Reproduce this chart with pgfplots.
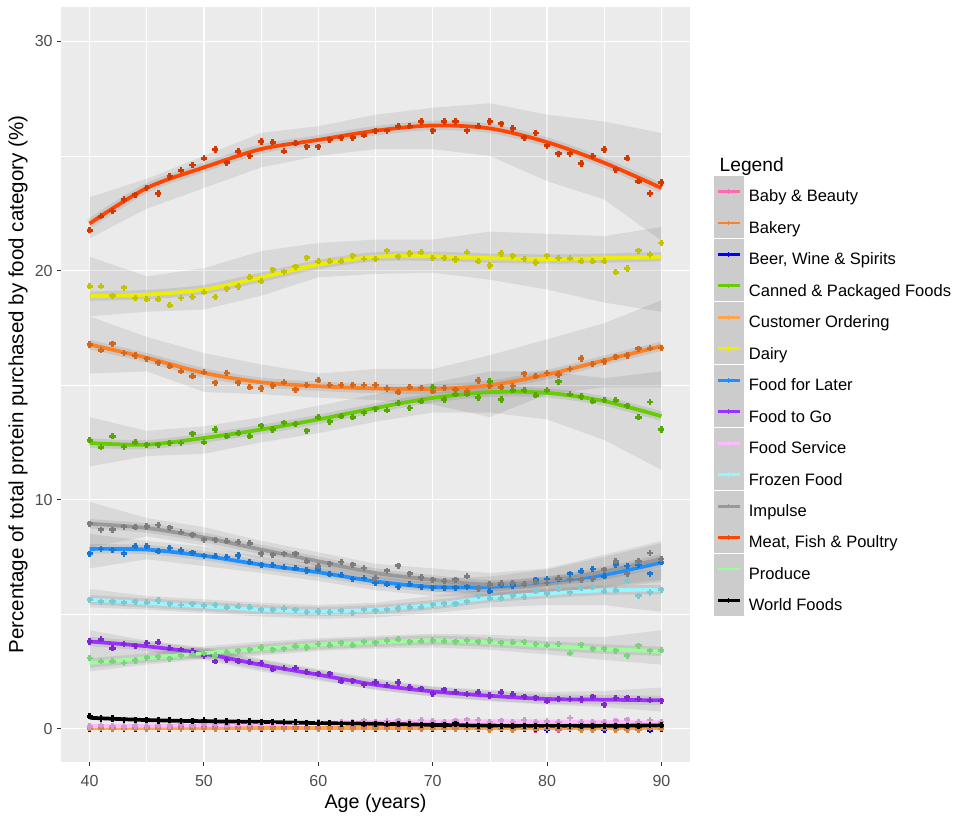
\documentclass[border=0pt]{standalone}
\usepackage{pgfplots}
\pgfplotsset{compat=1.18}
\usepackage{pgfplotstable}
\usepgfplotslibrary{fillbetween}
\usepackage{fontspec}
\setmainfont{Liberation Sans}

\definecolor{panelbg}{HTML}{EBEBEB}
\definecolor{keyfill}{HTML}{CCCCCC}
\definecolor{tickc}{HTML}{333333}
\definecolor{labc}{HTML}{4D4D4D}
\definecolor{cY}{HTML}{FF69B4}
\definecolor{cB}{HTML}{FF7F24}
\definecolor{cE}{HTML}{0000FF}
\definecolor{cC}{HTML}{66CD00}
\definecolor{cO}{HTML}{FFA54F}
\definecolor{cD}{HTML}{EEEE00}
\definecolor{cL}{HTML}{1E90FF}
\definecolor{cG}{HTML}{9B30FF}
\definecolor{cS}{HTML}{FFBBFF}
\definecolor{cF}{HTML}{98F5FF}
\definecolor{cI}{HTML}{999999}
\definecolor{cM}{HTML}{FF4500}
\definecolor{cP}{HTML}{9AFF9A}
\definecolor{cW}{HTML}{000000}

% points: M=Meat D=Dairy B=Bakery C=Canned I=Impulse L=Food for Later F=Frozen G=Food to Go
% P=Produce W=World Foods S=Food Service Y=Baby & Beauty E=Beer/Wine O=Customer Ordering
\pgfplotstableread{
a M D B C I L F G P W S Y E O
40 21.75 19.31 16.77 12.59 8.95 7.64 5.63 3.81 3.09 0.55 0.10 0.05 0.01 0.02
41 22.36 19.31 16.52 12.28 8.69 7.85 5.55 3.91 2.95 0.45 0.15 0.06 0.00 0.02
42 22.60 18.90 16.81 12.77 8.69 7.80 5.55 3.52 2.95 0.45 0.12 0.04 0.01 0.01
43 23.10 19.25 16.40 12.30 8.82 7.64 5.50 3.70 2.87 0.40 0.10 0.07 0.00 0.02
44 23.30 18.80 16.29 12.50 8.80 7.96 5.55 3.62 2.98 0.38 0.14 0.05 0.01 0.02
45 23.60 18.75 16.15 12.40 8.83 7.96 5.52 3.74 3.10 0.40 0.12 0.06 0.00 0.01
46 23.36 18.75 15.97 12.40 8.89 7.74 5.60 3.77 3.15 0.36 0.15 0.04 0.01 0.02
47 24.10 18.49 15.82 12.47 8.78 7.89 5.45 3.52 3.05 0.38 0.13 0.06 0.00 0.02
48 24.37 18.80 15.60 12.47 8.57 7.78 5.40 3.45 3.20 0.35 0.18 0.05 0.01 0.01
49 24.60 18.84 15.38 12.87 8.47 7.69 5.45 3.38 3.25 0.35 0.15 0.07 0.00 0.02
50 24.90 19.05 15.56 12.50 8.25 7.55 5.38 3.19 3.30 0.38 0.17 0.05 0.01 0.02
51 25.28 18.84 15.10 13.06 8.25 7.53 5.40 2.94 3.20 0.33 0.20 0.06 0.00 0.01
52 24.70 19.20 15.53 12.77 8.18 7.50 5.30 3.00 3.35 0.32 0.15 0.04 0.01 0.02
53 25.20 19.30 15.10 12.90 8.15 7.56 5.35 2.94 3.40 0.30 0.22 0.06 0.00 0.02
54 25.00 19.70 14.90 12.77 8.10 7.26 5.30 2.90 3.45 0.32 0.20 0.05 0.01 0.01
55 25.63 19.53 14.85 13.23 7.64 7.16 5.20 2.87 3.55 0.30 0.22 0.07 0.00 0.02
56 25.60 20.04 14.98 13.06 7.60 7.15 5.20 2.60 3.45 0.30 0.25 0.05 0.01 0.02
57 25.20 19.95 15.12 13.35 7.64 7.05 5.25 2.65 3.50 0.28 0.22 0.06 0.00 0.01
58 25.55 20.17 14.80 13.30 7.64 7.00 5.20 2.65 3.60 0.30 0.28 0.04 0.01 0.02
59 25.40 20.56 15.00 13.00 7.31 6.91 5.10 2.46 3.55 0.26 0.25 0.06 0.00 0.02
60 25.40 20.40 15.21 13.60 7.09 6.96 5.12 2.40 3.70 0.25 0.30 0.05 0.01 0.01
61 25.70 20.40 15.00 13.40 7.20 6.75 5.10 2.40 3.65 0.24 0.25 0.07 0.00 0.02
62 25.80 20.40 15.00 13.64 7.28 6.70 5.15 2.07 3.75 0.22 0.30 0.05 0.01 0.02
63 25.80 20.65 15.00 13.60 7.16 6.54 5.05 2.10 3.65 0.24 0.28 0.06 0.00 0.01
64 25.90 20.50 15.00 13.80 7.02 6.58 5.20 1.92 3.80 0.20 0.35 0.04 0.01 0.02
65 26.10 20.50 15.00 13.97 6.58 6.36 5.15 2.02 3.75 0.22 0.30 0.06 0.00 0.02
66 26.10 20.87 14.85 13.90 6.90 6.30 5.20 1.90 3.85 0.20 0.32 0.05 0.01 0.01
67 26.30 20.60 14.69 14.22 7.12 6.19 5.25 2.02 3.91 0.19 0.35 0.06 0.00 0.02
68 26.30 20.74 14.90 14.00 6.77 6.30 5.30 1.80 3.80 0.20 0.30 0.05 0.01 0.02
69 26.50 20.80 14.87 14.30 6.60 6.19 5.30 1.75 3.82 0.17 0.38 0.07 0.00 0.01
70 26.10 20.55 14.73 14.90 6.50 6.15 5.42 1.53 3.85 0.16 0.32 0.05 0.01 0.02
71 26.50 20.55 14.87 14.37 6.45 6.15 5.45 1.70 3.82 0.15 0.30 0.06 0.00 0.02
72 26.50 20.48 14.80 14.60 6.51 6.15 5.45 1.60 3.80 0.22 0.35 0.04 0.01 0.01
73 26.10 20.80 14.73 14.60 6.65 6.20 5.55 1.50 3.85 0.15 0.40 0.06 0.00 0.02
74 26.30 20.40 15.20 14.46 6.12 6.10 5.81 1.60 3.80 0.14 0.38 0.05 0.01 0.02
75 26.50 20.22 14.96 15.17 6.30 6.00 5.70 1.45 3.85 0.13 0.30 -0.04 0.00 -0.04
76 26.40 20.74 14.90 14.37 6.36 6.29 5.70 1.60 3.75 0.14 0.35 0.05 0.01 0.02
77 26.20 20.65 14.96 14.77 6.36 6.25 5.80 1.50 3.78 0.13 0.30 0.06 0.00 -0.04
78 25.80 20.50 15.50 14.77 6.30 6.30 5.75 1.40 3.80 0.12 0.38 0.05 0.01 0.02
79 26.00 20.35 15.38 14.55 6.40 6.51 6.00 1.35 3.70 0.13 0.30 -0.04 0.00 0.02
80 25.45 20.65 15.53 14.77 6.36 6.54 5.90 1.20 3.65 0.12 0.32 0.05 -0.05 0.02
81 25.10 20.55 15.46 15.15 6.58 6.55 6.10 1.30 3.70 0.13 0.30 -0.04 0.00 0.01
82 25.10 20.54 15.70 14.60 6.50 6.77 5.95 1.30 3.30 0.12 0.47 0.05 0.01 0.02
83 24.67 20.40 16.16 14.50 6.51 6.87 6.15 1.28 3.67 0.14 0.30 0.06 0.00 -0.04
84 25.00 20.40 15.92 14.30 6.55 6.97 6.19 1.40 3.50 0.13 0.28 0.05 0.01 -0.04
85 25.28 20.40 16.03 14.35 6.94 6.65 6.00 1.05 3.50 0.12 0.30 0.06 -0.05 0.02
86 24.40 19.93 16.23 14.33 7.31 7.16 6.05 1.34 3.40 0.13 0.35 0.04 0.00 -0.04
87 24.90 20.09 16.29 14.10 6.77 7.10 6.48 1.35 3.19 0.14 0.40 0.06 0.01 -0.04
88 23.90 20.87 16.58 13.60 7.31 7.15 5.81 1.30 3.62 0.13 0.30 0.05 0.00 -0.04
89 23.36 20.70 16.60 14.26 7.67 6.77 5.95 1.25 3.40 0.15 0.38 0.06 -0.06 0.02
90 23.84 21.20 16.62 13.06 7.41 7.26 6.07 1.23 3.42 0.16 0.30 0.05 0.01 0.02
}\pts

% smooth fits (s) with outer band (lo, hi)
\pgfplotstableread{
a Ms Mlo Mhi Ds Dlo Dhi Bs Blo Bhi Cs Clo Chi Is Ilo Ihi Ls Llo Lhi Fs Flo Fhi Gs Glo Ghi Ps Plo Phi Ws Ss Ys Es Os
40 22.05 21.4 23.2 18.88 18.0 20.6 16.77 15.5 18.0 12.47 11.45 13.6 8.95 7.9 9.9 7.85 7.0 8.5 5.63 5.3 6.1 3.81 3.3 4.3 2.87 2.5 3.3 0.48 0.12 0.06 0.01 0.02
45 23.6 22.7 24.0 18.95 18.2 19.75 16.19 15.6 17.1 12.4 11.9 13.0 8.76 8.4 9.2 7.82 7.4 8.2 5.49 5.2 5.8 3.6 3.35 3.85 3.09 2.8 3.35 0.38 0.13 0.06 0.01 0.02
50 24.5 23.6 25.0 19.17 18.3 20.1 15.53 14.7 16.4 12.69 12.0 13.2 8.35 8.0 8.8 7.55 7.1 7.95 5.34 5.05 5.65 3.28 3.0 3.55 3.3 3.05 3.6 0.33 0.15 0.06 0.01 0.02
55 25.3 24.5 26.0 19.7 18.9 20.85 15.12 14.6 15.9 13.06 12.5 13.6 7.82 7.4 8.2 7.16 6.8 7.5 5.2 4.9 5.5 2.79 2.5 3.05 3.49 3.2 3.8 0.3 0.2 0.06 0.01 0.02
60 25.7 25.0 26.3 20.26 19.7 21.2 14.95 14.45 15.5 13.5 12.9 14.1 7.31 6.9 7.7 6.83 6.45 7.2 5.12 4.8 5.4 2.36 2.1 2.6 3.67 3.4 3.95 0.25 0.26 0.06 0.01 0.02
65 26.1 25.3 26.8 20.6 19.85 21.35 14.85 14.35 15.7 14.0 13.4 14.6 6.8 6.4 7.2 6.43 6.05 6.8 5.2 4.85 5.5 1.92 1.7 2.2 3.77 3.5 4.05 0.22 0.3 0.06 0.01 0.02
70 26.33 25.3 27.1 20.62 19.9 21.35 14.83 14.15 15.7 14.44 13.8 15.1 6.5 6.0 7.0 6.19 5.8 6.55 5.41 5.05 5.8 1.63 1.4 1.85 3.86 3.55 4.15 0.17 0.32 0.06 0.01 0.02
75 26.2 25.0 27.3 20.54 19.6 21.7 14.99 13.6 16.3 14.69 13.8 15.6 6.29 5.8 6.8 6.19 5.75 6.65 5.71 5.3 6.1 1.44 1.2 1.7 3.77 3.45 4.1 0.14 0.33 0.06 0.01 0.02
80 25.6 23.9 26.8 20.5 19.17 21.6 15.46 14.6 17.0 14.66 13.5 15.6 6.45 5.9 7.0 6.43 5.95 6.95 5.9 5.4 6.4 1.3 1.05 1.6 3.62 3.25 4.0 0.13 0.32 0.06 0.01 0.02
85 24.7 23.1 26.5 20.54 18.6 21.5 16.08 14.9 17.7 14.3 12.6 15.3 6.87 6.2 7.6 6.72 6.15 7.5 6.04 5.4 6.7 1.27 0.95 1.65 3.48 3.0 4.0 0.13 0.3 0.06 0.01 0.02
90 23.6 21.3 26.0 20.6 18.2 21.9 16.7 14.9 18.7 13.64 11.3 15.6 7.41 6.5 8.2 7.26 6.4 8.1 6.07 5.1 7.0 1.24 0.75 1.8 3.38 2.8 4.3 0.15 0.28 0.06 0.01 0.02
}\sm

\begin{document}
\begin{tikzpicture}
\begin{axis}[
  at={(0pt,0pt)}, anchor=south west,
  scale only axis, width=471.75pt, height=566.25pt,
  xmin=37.5, xmax=92.5, ymin=-1.45, ymax=31.5,
  xtick={40,50,...,90}, ytick={0,10,20,30},
  minor xtick={45,55,65,75,85}, minor ytick={5,15,25},
  grid=both,
  major grid style={white, line width=1.05pt},
  minor grid style={white, line width=0.5pt},
  axis background/.style={fill=panelbg},
  axis line style={draw=none},
  tick align=outside, tick pos=left,
  major tick length=2.8pt, minor tick length=0pt,
  tick style={color=tickc, line width=0.8pt},
  ticklabel style={font=\fontsize{12}{14}\selectfont, text=labc},
  xticklabel style={yshift=-3.5pt},
  /pgf/number format/assume math mode=true,
  xlabel={Age (years)},
  ylabel={Percentage of total protein purchased by food category (\%)},
  label style={font=\fontsize{14.8}{17}\selectfont},
  xlabel style={at={(axis description cs:0.5,-0.0543)}, anchor=center},
  ylabel style={at={(axis description cs:-0.0684,0.5)}, anchor=center, font=\fontsize{15.4}{17}\selectfont},
  legend style={at={(1.0382,0.7762)}, anchor=north west, draw=none, fill=none,
    inner sep=0pt, outer sep=0pt, row sep=0.4pt, column sep=3.75pt,
    nodes={inner sep=0pt},
    font=\fontsize{12.4}{14}\selectfont},
  legend cell align=left,
  legend image code/.code={%
    \fill[keyfill] (0pt,-6.15pt) rectangle (19.6pt,14.25pt);
    \draw[#1, line width=2.1pt] (1.8pt,4.05pt) -- (17.8pt,4.05pt);
    \draw[#1, line width=0.7pt] (9.8pt,2.3pt) -- (9.8pt,5.8pt);},
  legend entries={Baby \& Beauty, Bakery, {Beer, Wine \& Spirits}, Canned \& Packaged Foods,
    Customer Ordering, Dairy, Food for Later, Food to Go, Food Service, Frozen Food,
    Impulse, {Meat, Fish \& Poultry}, Produce, World Foods},
]
% outer bands
\pgfplotsinvokeforeach{M,D,B,C,I,L,F,G,P}{
  \addplot[draw=none, forget plot, name path=hi#1] table[x=a, y=#1hi]{\sm};
  \addplot[draw=none, forget plot, name path=lo#1] table[x=a, y=#1lo]{\sm};
  \addplot[fill=black, fill opacity=0.075, draw=none, forget plot] fill between[of=hi#1 and lo#1];
}
% confidence halos
\pgfplotsinvokeforeach{M,D,B,C,I,L,F,G,P}{
  \addplot[black, opacity=0.08, line width=7pt, smooth, forget plot] table[x=a, y=#1s]{\sm};
}
% fitted lines (legend order)
\pgfplotsinvokeforeach{Y,B,E,C,O,D,L,G,S,F,I,M,P,W}{
  \addplot[color=c#1, line width=2.8pt, smooth] table[x=a, y=#1s]{\sm};
}
% points
\pgfplotsinvokeforeach{Y,B,E,C,O,D,L,G,S,F,I,M,P,W}{
  \addplot[only marks, forget plot, mark=+, mark size=2.3pt, line width=2.1pt, color=c#1!82!black] table[x=a, y=#1]{\pts};
}
\end{axis}
\node[anchor=base west, font=\fontsize{14.4}{16}\selectfont] at (490.5pt,442.5pt) {Legend};
\pgfresetboundingbox
\useasboundingbox (-45.75pt,-42.75pt) rectangle (672pt,571.5pt);
\end{tikzpicture}
\end{document}
